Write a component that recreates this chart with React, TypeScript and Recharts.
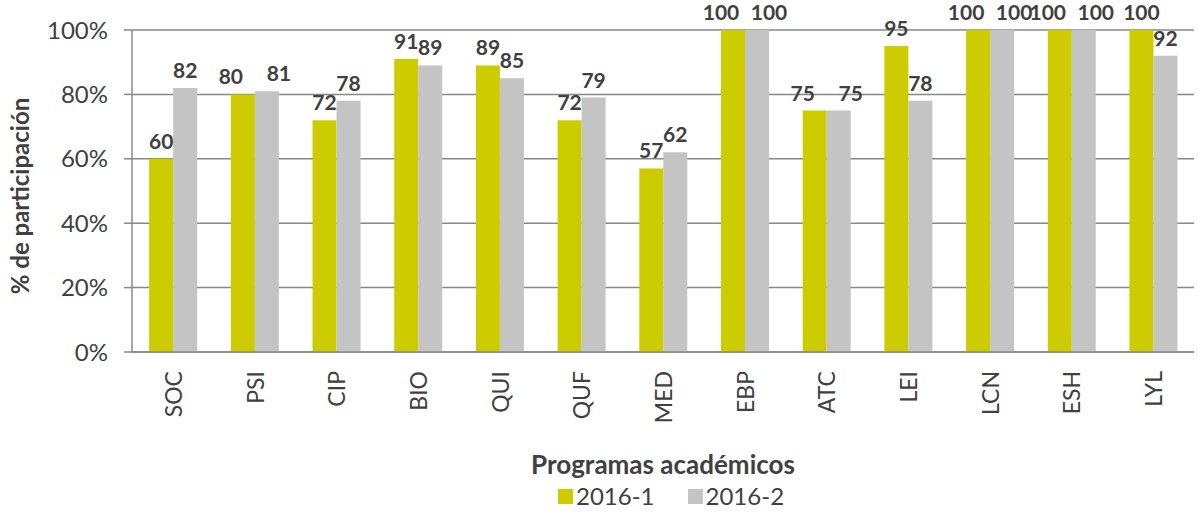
import { BarChart, Bar, XAxis, YAxis, CartesianGrid, Legend, LabelList } from "recharts"

const programas = ["SOC", "PSI", "CIP", "BIO", "QUI", "QUF", "MED", "EBP", "ATC", "LEI", "LCN", "ESH", "LYL"]
const periodo1 = [60, 80, 72, 91, 89, 72, 57, 100, 75, 95, 100, 100, 100]
const periodo2 = [82, 81, 78, 89, 85, 79, 62, 100, 75, 78, 100, 100, 92]
const yTicks = [0, 20, 40, 60, 80, 100]
const boundaryTicks = programas.map((_, i) => i).concat(programas.length)

const data = programas.map((p, i) => ({ programa: p, s1: periodo1[i], s2: periodo2[i] }))

const FONT = "Lato, 'Open Sans', sans-serif"
const TEXT = "#404040"
const GRID = "#888888"
const GREEN = "#CCCC00"
const GRAY = "#C4C4C4"

function ProgramTick(props: any) {
  const { x, y, payload } = props
  return (
    <text
      x={x}
      y={y + 11}
      transform={`rotate(-90, ${x}, ${y + 11})`}
      textAnchor="end"
      dominantBaseline="central"
      fontFamily={FONT}
      fontSize={23}
      fill={TEXT}
    >
      {payload.value}
    </text>
  )
}

// pushes the two labels apart when the bars of a pair have (almost) the same height
function makeValueLabel(side: -1 | 1) {
  return function ValueLabel(props: any) {
    const { x, y, width, value, index } = props
    const close = Math.abs(periodo1[index] - periodo2[index]) <= 1
    const cx = x + width / 2 + (close ? side * 12 : 0)
    return (
      <text
        x={cx}
        y={y - 10}
        textAnchor="middle"
        fontFamily={FONT}
        fontSize={21}
        fontWeight={700}
        fill={TEXT}
      >
        {value}
      </text>
    )
  }
}

function LegendContent() {
  const items = [
    { name: "2016-1", color: GREEN },
    { name: "2016-2", color: GRAY },
  ]
  return (
    <div style={{ display: "flex", justifyContent: "flex-start", paddingLeft: 558, fontFamily: FONT, fontSize: 24, color: TEXT, lineHeight: "28px" }}>
      {items.map((it) => (
        <div key={it.name} style={{ display: "flex", alignItems: "center", marginRight: 33 }}>
          <span style={{ display: "inline-block", width: 15, height: 15, background: it.color, marginRight: 3 }} />
          <span>{it.name}</span>
        </div>
      ))}
    </div>
  )
}

export default function App() {
  return (
    <div style={{ position: "absolute", left: 0, top: 0, background: "#fff" }}>
      <BarChart
        width={1198}
        height={514}
        data={data}
        margin={{ top: 30, right: 4, left: 0, bottom: 0 }}
        barCategoryGap="21%"
        barGap={0}
      >
        <CartesianGrid vertical={false} stroke={GRID} strokeWidth={1.5} />
        <XAxis
          xAxisId="edges"
          type="number"
          domain={[0, programas.length]}
          ticks={boundaryTicks}
          tick={false}
          tickSize={8}
          axisLine={false}
          tickLine={{ stroke: GRID, strokeWidth: 1.5 }}
          height={0}
          allowDataOverflow
        />
        <XAxis
          dataKey="programa"
          interval={0}
          tick={<ProgramTick />}
          tickLine={false}
          axisLine={{ stroke: GRID, strokeWidth: 1.5 }}
          height={130}
          label={{
            value: "Programas académicos",
            position: "insideBottom",
            offset: 8,
            style: { fontFamily: FONT, fontSize: 26, fontWeight: 700, fill: TEXT },
          }}
        />
        <YAxis
          domain={[0, 100]}
          ticks={yTicks}
          tickFormatter={(v) => `${v}%`}
          width={132}
          tickSize={8}
          tickMargin={16}
          tick={{ fontFamily: FONT, fontSize: 24, fill: TEXT }}
          axisLine={{ stroke: GRID, strokeWidth: 1.5 }}
          tickLine={{ stroke: GRID, strokeWidth: 1.5 }}
          label={{
            value: "% de participación",
            angle: -90,
            position: "insideLeft",
            offset: 0,
            dx: 20,
            dy: 5,
            style: { fontFamily: FONT, fontSize: 24, fontWeight: 700, fill: TEXT, textAnchor: "middle" },
          }}
        />
        <Legend verticalAlign="bottom" height={32} content={<LegendContent />} />
        <Bar dataKey="s1" name="2016-1" fill={GREEN} isAnimationActive={false}>
          <LabelList dataKey="s1" content={makeValueLabel(-1)} />
        </Bar>
        <Bar dataKey="s2" name="2016-2" fill={GRAY} isAnimationActive={false}>
          <LabelList dataKey="s2" content={makeValueLabel(1)} />
        </Bar>
      </BarChart>
    </div>
  )
}
